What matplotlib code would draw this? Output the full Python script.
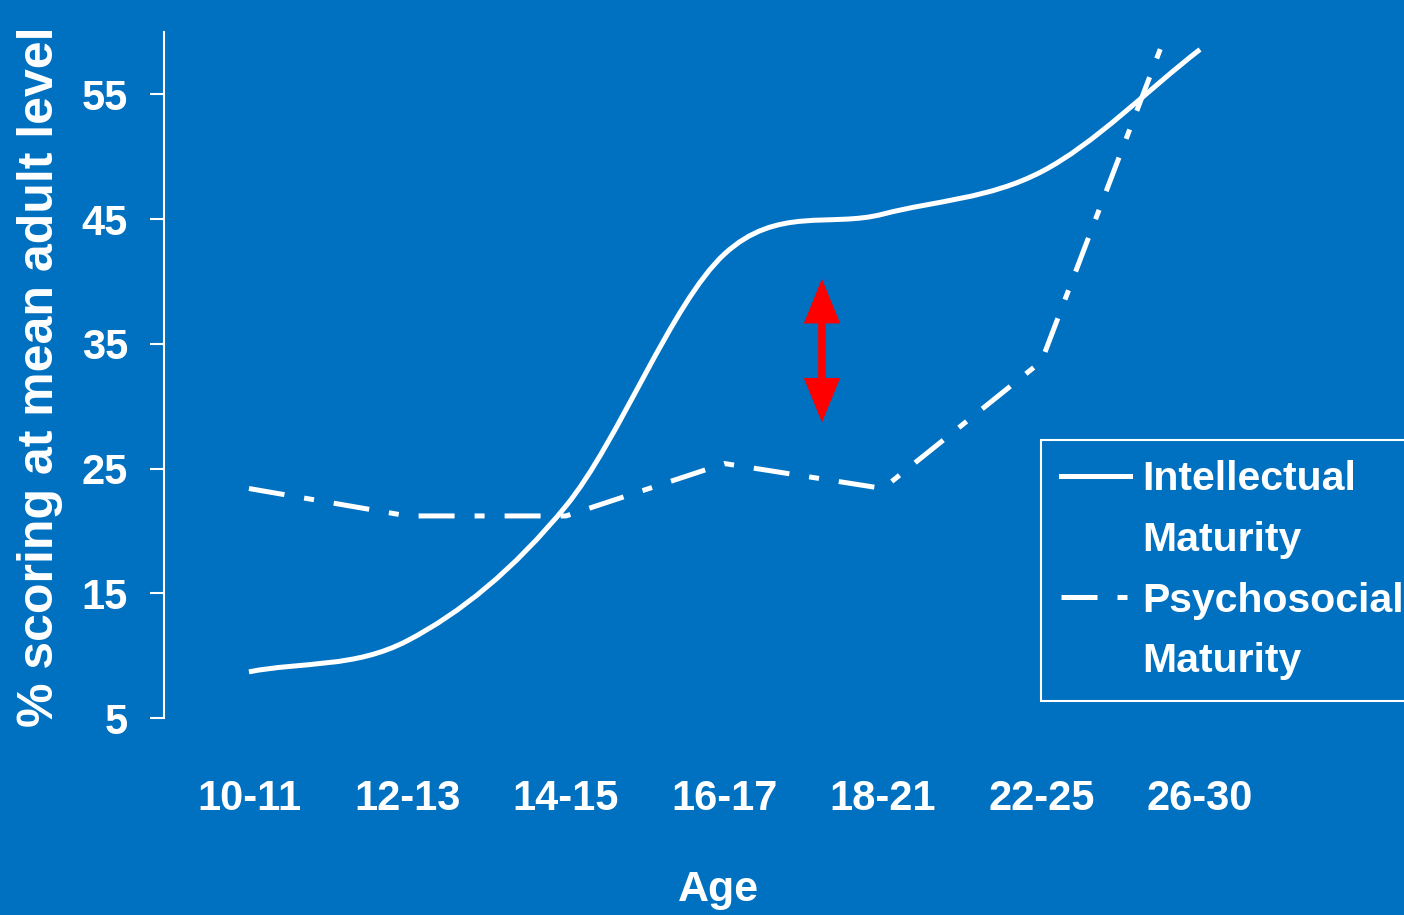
import numpy as np
import matplotlib
matplotlib.use('Agg')
import matplotlib.pyplot as plt
from matplotlib.path import Path
from matplotlib.patches import PathPatch, FancyArrowPatch
from matplotlib.lines import Line2D

# % scoring at mean adult level, by age group
age_groups = ['10-11', '12-13', '14-15', '16-17', '18-21', '22-25', '26-30']
intellectual = [8.7, 11.2, 22.0, 42.2, 45.4, 48.8, 58.6]
psychosocial = [23.4, 21.2, 21.2, 25.4, 23.4, 33.6, 67.0]
y_ticks = [5, 15, 25, 35, 45, 55]

# red double arrow marking the gap between the two curves
gap_x = 3.615
gap_low, gap_high = 28.7, 40.2

bg = '#0070C0'
plt.rcParams['font.family'] = ['Liberation Sans', 'DejaVu Sans']
plt.rcParams['font.weight'] = 'bold'

LW = 3.6
DASHDOT = (7.2, 4.0, 2.0, 4.0)


def smooth_path(xs, ys):
    # Catmull-Rom style smoothing written as cubic Bezier segments
    pts = np.column_stack([xs, ys]).astype(float)
    ext = np.vstack([2 * pts[0] - pts[1], pts, 2 * pts[-1] - pts[-2]])
    verts = [pts[0]]
    codes = [Path.MOVETO]
    for i in range(len(pts) - 1):
        p0, p1, p2, p3 = ext[i], ext[i + 1], ext[i + 2], ext[i + 3]
        verts += [p1 + (p2 - p0) / 6, p2 - (p3 - p1) / 6, p2]
        codes += [Path.CURVE4] * 3
    return Path(verts, codes)


fig = plt.figure(figsize=(14.04, 9.15), dpi=100, facecolor=bg)
ax = fig.add_axes([164 / 1404, 197 / 915, 1240 / 1404, 686 / 915])
ax.set_facecolor(bg)

x = np.arange(len(age_groups))

ax.add_patch(PathPatch(smooth_path(x, intellectual), facecolor='none',
                       edgecolor='white', lw=LW, capstyle='butt'))
ax.plot(x, psychosocial, color='white', lw=LW, dashes=DASHDOT,
        solid_joinstyle='miter')

arrow = FancyArrowPatch((gap_x, gap_low), (gap_x, gap_high),
                        arrowstyle='<|-|>,head_length=22,head_width=9',
                        mutation_scale=1, lw=5.5, color='#FF0000',
                        shrinkA=0, shrinkB=0, joinstyle='miter')
ax.add_patch(arrow)

ax.set_xlim(-0.536, 7.287)
ax.set_ylim(5, 60)
ax.set_xticks(x, age_groups)
ax.set_yticks(y_ticks)
ax.tick_params(axis='x', length=0, pad=44, labelsize=30, labelcolor='white')
ax.tick_params(axis='y', length=10, width=1.5, color='white', pad=16,
               labelsize=30, labelcolor='white')
for side in ['top', 'right', 'bottom']:
    ax.spines[side].set_visible(False)
ax.spines['left'].set_color('white')
ax.spines['left'].set_linewidth(1.5)

ax.set_ylabel('% scoring at mean adult level', fontsize=36, color='white',
              fontweight='bold', va='center')
ax.yaxis.set_label_coords(-0.1, 0.497)
ax.set_xlabel('Age', fontsize=31, color='white', fontweight='bold',
              va='center')
ax.xaxis.set_label_coords(0.4468, -0.25)

# each series label takes two rows; the second row gets an empty handle
blank = Line2D([], [], color='none')
handles = [Line2D([], [], color='white', lw=LW), blank,
           Line2D([], [], color='white', lw=LW, dashes=DASHDOT), blank]
labels = ['Intellectual', 'Maturity', 'Psychosocial', 'Maturity']
leg = ax.legend(handles, labels, loc='upper left',
                bbox_to_anchor=(1041 / 1404, 1 - 440 / 915),
                bbox_transform=fig.transFigure, borderaxespad=0,
                fontsize=29.5, handlelength=1.66, handletextpad=0.31,
                borderpad=0.5, labelspacing=0.55, fancybox=False,
                framealpha=1, facecolor=bg, edgecolor='white')
leg.get_frame().set_linewidth(1.5)
for t in leg.get_texts():
    t.set_color('white')

fig.savefig('out.png', dpi=100, facecolor=bg)
